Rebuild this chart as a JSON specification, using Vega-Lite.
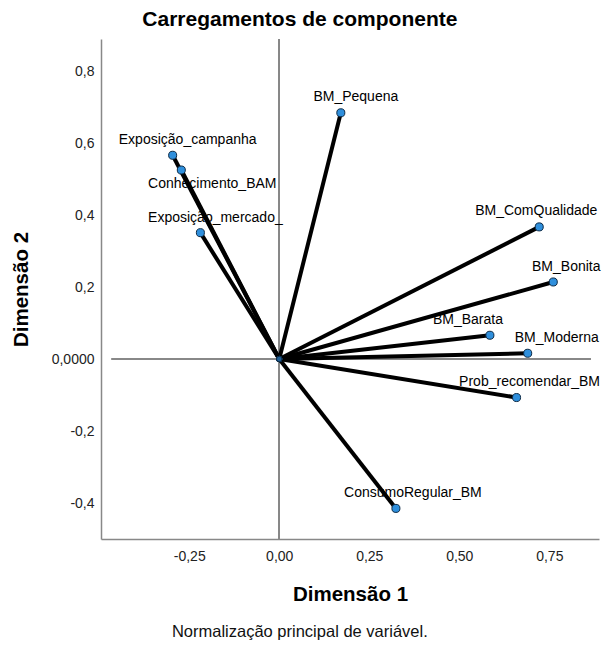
{
  "$schema": "https://vega.github.io/schema/vega-lite/v6.json",
  "background": "white",
  "padding": {"left": 11, "top": 9, "right": 3, "bottom": 5},
  "title": {"text": "Normalização principal de variável.", "orient": "bottom", "anchor": "middle", "frame": "bounds", "font": "Liberation Sans", "fontSize": 16.5, "fontWeight": "normal", "color": "#111", "offset": 19, "dx": -6},
  "config": {
    "view": {"stroke": null},
    "font": "Liberation Sans",
    "axis": {"grid": false, "ticks": false, "domainColor": "#888", "domainWidth": 1.5, "labelFont": "Liberation Sans", "labelFontSize": 14, "labelColor": "#222", "titleFont": "Liberation Sans", "titleFontSize": 20.5, "titleFontWeight": "bold", "titleColor": "#000"}
  },
  "vconcat": [
    {
      "title": {"text": "Carregamentos de componente", "anchor": "middle", "frame": "bounds", "font": "Liberation Sans", "fontSize": 21, "fontWeight": "bold", "color": "#000", "offset": 8, "dx": -6},
      "width": 498,
      "height": 500,
      "data": {"values": [
        {"name": "BM_Pequena", "x": 0.171, "y": 0.684},
        {"name": "Exposição_campanha", "x": -0.296, "y": 0.566},
        {"name": "Conhecimento_BAM", "x": -0.272, "y": 0.525},
        {"name": "Exposição_mercado_", "x": -0.219, "y": 0.351},
        {"name": "BM_ComQualidade", "x": 0.722, "y": 0.367},
        {"name": "BM_Bonita", "x": 0.761, "y": 0.214},
        {"name": "BM_Barata", "x": 0.585, "y": 0.066},
        {"name": "BM_Moderna", "x": 0.690, "y": 0.016},
        {"name": "Prob_recomendar_BM", "x": 0.659, "y": -0.107},
        {"name": "ConsumoRegular_BM", "x": 0.324, "y": -0.415}
      ]},
      "encoding": {
        "x": {"field": "x", "type": "quantitative", "scale": {"domain": [-0.495, 0.888], "nice": false, "zero": false},
          "axis": {"title": "Dimensão 1", "values": [-0.25, 0, 0.25, 0.5, 0.75], "labelPadding": 10, "titlePadding": 21, "labelExpr": "replace(replace(format(datum.value, '.2f'), '.', ','), '−', '-')"}},
        "y": {"field": "y", "type": "quantitative", "scale": {"domain": [-0.5, 0.889], "nice": false, "zero": false},
          "axis": {"title": "Dimensão 2", "values": [-0.4, -0.2, 0, 0.2, 0.4, 0.6, 0.8], "labelPadding": 7, "titlePadding": 20, "labelExpr": "datum.value == 0 ? '0,0000' : replace(replace(format(datum.value, '.1f'), '.', ','), '−', '-')"}}
      },
      "layer": [
        {"mark": {"type": "rule", "color": "#888", "strokeWidth": 1.5}, "encoding": {"x": {"datum": 0}, "y": null}},
        {"mark": {"type": "rule", "color": "#888", "strokeWidth": 1.5}, "encoding": {"x": {"datum": -0.465}, "x2": {"datum": 0.864}, "y": {"datum": 0}}},
        {"transform": [{"filter": "datum.name == 'BM_Pequena'"}], "mark": {"type": "text", "fontSize": 14, "color": "#000", "dx": 15, "dy": -16}, "encoding": {"text": {"field": "name"}}},
        {"transform": [{"filter": "datum.name == 'Exposição_campanha'"}], "mark": {"type": "text", "fontSize": 14, "color": "#000", "dx": 15, "dy": -15}, "encoding": {"text": {"field": "name"}}},
        {"transform": [{"filter": "datum.name == 'Conhecimento_BAM'"}], "mark": {"type": "text", "fontSize": 14, "color": "#000", "dx": 31, "dy": 14}, "encoding": {"text": {"field": "name"}}},
        {"transform": [{"filter": "datum.name == 'Exposição_mercado_'"}], "mark": {"type": "text", "fontSize": 14, "color": "#000", "dx": 15, "dy": -15}, "encoding": {"text": {"field": "name"}}},
        {"transform": [{"filter": "datum.name == 'BM_ComQualidade'"}], "mark": {"type": "text", "fontSize": 14, "color": "#000", "dx": -3, "dy": -15.5}, "encoding": {"text": {"field": "name"}}},
        {"transform": [{"filter": "datum.name == 'BM_Bonita'"}], "mark": {"type": "text", "fontSize": 14, "color": "#000", "dx": 13, "dy": -15}, "encoding": {"text": {"field": "name"}}},
        {"transform": [{"filter": "datum.name == 'BM_Barata'"}], "mark": {"type": "text", "fontSize": 14, "color": "#000", "dx": -22, "dy": -15}, "encoding": {"text": {"field": "name"}}},
        {"transform": [{"filter": "datum.name == 'BM_Moderna'"}], "mark": {"type": "text", "fontSize": 14, "color": "#000", "dx": 29, "dy": -15.5}, "encoding": {"text": {"field": "name"}}},
        {"transform": [{"filter": "datum.name == 'Prob_recomendar_BM'"}], "mark": {"type": "text", "fontSize": 14, "color": "#000", "dx": 13, "dy": -15.5}, "encoding": {"text": {"field": "name"}}},
        {"transform": [{"filter": "datum.name == 'ConsumoRegular_BM'"}], "mark": {"type": "text", "fontSize": 14, "color": "#000", "dx": 17, "dy": -15.5}, "encoding": {"text": {"field": "name"}}},
        {"mark": {"type": "rule", "color": "#000", "strokeWidth": 4}, "encoding": {"x2": {"datum": 0}, "y2": {"datum": 0}}},
        {"mark": {"type": "point", "filled": true, "fill": "#2f8fdc", "stroke": "#0d2a45", "strokeWidth": 1, "size": 65, "opacity": 1}, "encoding": {}},
        {"mark": {"type": "point", "filled": true, "fill": "#1f5f96", "stroke": "#0d2a45", "strokeWidth": 1, "size": 30, "opacity": 1}, "encoding": {"x": {"datum": 0}, "y": {"datum": 0}}}
      ]
    }
  ]
}
